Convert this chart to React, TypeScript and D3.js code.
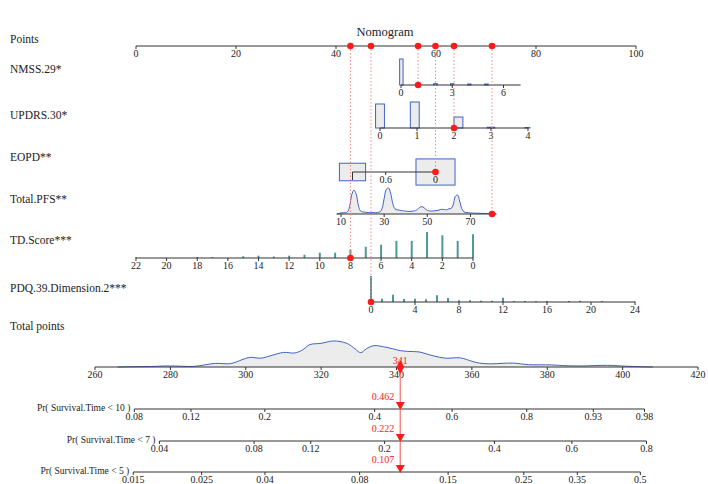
import React from 'react';
import * as d3 from 'd3';

const FONT = '"Liberation Serif", "Times New Roman", serif';
const W = 708;
const H = 484;

// ---- data ----
const pointTicks = [0, 20, 40, 60, 80, 100];
const totalTicks = [260, 280, 300, 320, 340, 360, 380, 400, 420];

// points = intercept + slope * value
const nmssCoef = [53.0, 3.417];
const updrsCoef = [48.8, 7.4];
const eopdCoef = [59.9, -16.6];
const pfsCoef = [36.69, 0.4314];
const tdCoef = [67.4, -3.064];
const pdqCoef = [47.0, 2.2];

// the patient that is marked in red
const obsNmss = 1;
const obsUpdrs = 2;
const obsEopd = 0;
const obsPfs = 80;
const obsTd = 8;
const obsPdq = 0;

const nmssRange = [0, 7];
const nmssTicks = [0, 3, 6];
// [from, to, frequency]
const nmssBins = [
  [-0.08, 0.12, 27], [0.92, 1.12, 1.2], [1.92, 2.12, 1.5],
  [2.9, 3.1, 1.4], [3.9, 4.1, 1], [4.9, 5.1, 1],
];

const updrsRange = [0, 4];
const updrsTicks = [0, 1, 2, 3, 4];
const updrsBins = [
  [-0.12, 0.12, 24], [0.82, 1.06, 26], [2.0, 2.24, 11], [2.9, 3.1, 0.8], [3.92, 4.05, 0.5],
];

const eopdLevels = [1, 0];
const eopdFreq = [0.31, 0.69];
const eopdTicks = [1, 0.6, 0];
const eopdTickLabels = ['', '0.6', '0'];

const pfsRange = [8, 82];
const pfsTicks = [10, 30, 50, 70];
const pfsX = d3.range(8, 83);
const pfsDensity = [
  0.0, 0.02, 0.04, 0.05, 0.05, 0.08,
  0.3, 0.75, 0.92, 0.78, 0.35, 0.12, 0.08,
  0.07, 0.06, 0.05, 0.05, 0.06, 0.05, 0.06, 0.08, 0.2, 0.6,
  0.95, 1.0, 0.8, 0.4, 0.2, 0.16, 0.15, 0.13, 0.12, 0.11,
  0.1, 0.1, 0.11, 0.12, 0.15, 0.22, 0.28, 0.27, 0.2, 0.14,
  0.12, 0.11, 0.12, 0.13, 0.14, 0.17, 0.18, 0.17, 0.16, 0.2,
  0.21, 0.35, 0.68, 0.73, 0.5, 0.2, 0.08, 0.06, 0.05, 0.04,
  0.04, 0.03, 0.03, 0.03, 0.02, 0.02, 0.02, 0.02, 0.02, 0.02, 0.01, 0.0,
];

const tdRange = [0, 22];
const tdTicks = [22, 20, 18, 16, 14, 12, 10, 8, 6, 4, 2, 0];
const tdValues = [22, 18, 17, 15, 14, 13, 12, 11, 10, 9, 8, 7, 6, 5, 4, 3, 2, 1, 0];
const tdFreq = [0.3, 0.3, 0.3, 0.6, 0.8, 0.5, 0.8, 1.1, 1.8, 1.8, 2.8, 3.8, 4.5, 5.8, 5.8, 8.8, 7.7, 5.8, 8.0];

const pdqRange = [0, 24];
const pdqTicks = [0, 4, 8, 12, 16, 20, 24];
const pdqValues = [0, 1, 2, 3, 4, 5, 6, 7, 8, 9, 10, 11, 12, 13, 14, 15, 16, 18, 19, 21, 24];
const pdqFreq = [26.5, 3.3, 7.3, 3, 3.3, 2.7, 7, 4, 1.7, 1.7, 1.3, 1.3, 4.3, 1, 1, 1, 1, 1, 1.3, 1, 0.5];

// density of total points: [total, density]
const totalDensity = [
  [266, 0], [270, 0.01], [275, 0.02], [279, 0.04], [283, 0.03], [286, 0.02], [289, 0.08],
  [292, 0.14], [296, 0.13], [299, 0.28], [301, 0.37], [304, 0.34], [307, 0.45], [310, 0.56],
  [313, 0.54], [315, 0.65], [317, 0.86], [320, 0.91], [323, 1.0], [325, 0.98], [327, 0.9],
  [329, 0.7], [330.5, 0.55], [332, 0.7], [334, 0.82], [336.5, 0.78], [339, 0.7], [341, 0.63],
  [343, 0.6], [346, 0.58], [348, 0.5], [350, 0.42], [353, 0.34], [357, 0.35], [360, 0.22],
  [362, 0.15], [365, 0.12], [368, 0.14], [371, 0.15], [375, 0.09], [381, 0.08], [385, 0.05],
  [389, 0.04], [396, 0.065], [401, 0.03], [405, 0.01], [408, 0],
];

// Cox model: Pr(T < t) = 1 - S0(t)^exp(beta * (total - 300))
const beta = 0.02843;
const prTimes = [10, 7, 5];
const baseSurv300 = [0.8243, 0.9247, 0.9653];
const prTicks = [
  [0.08, 0.12, 0.2, 0.4, 0.6, 0.8, 0.93, 0.98],
  [0.04, 0.08, 0.12, 0.2, 0.4, 0.6, 0.8],
  [0.015, 0.025, 0.04, 0.08, 0.15, 0.25, 0.35, 0.5],
];

// ---- layout ----
const Y = { points: 46, nmss: 85, updrs: 128, eopd: 172, pfs: 214, td: 258, pdq: 302, total: 367 };
const prY = [409, 441, 472];
const DIST_H = 26;

const AXIS = '#333';
const BLUE = '#4063c4';
const FILL = '#ececec';
const TEAL = '#4e9995';
const RED = '#ff1a1a';
const PINK = '#f28a8a';

const xPts = d3.scaleLinear().domain([0, 100]).range([136, 636]);
const xTot = d3.scaleLinear().domain([260, 420]).range([95, 698]);

const lin = (c: number[]) => (v: number) => xPts(c[0] + c[1] * v);
const xNmss = lin(nmssCoef);
const xUpdrs = lin(updrsCoef);
const xEopd = lin(eopdCoef);
const xPfs = lin(pfsCoef);
const xTd = lin(tdCoef);
const xPdq = lin(pdqCoef);

const prX = (i: number, p: number) => xTot(300 + Math.log(Math.log(1 - p) / Math.log(baseSurv300[i])) / beta);
const prAt = (i: number, total: number) => 1 - Math.pow(baseSurv300[i], Math.exp(beta * (total - 300)));

function Axis({ x1, x2, y, ticks }: { x1: number; x2: number; y: number; ticks: { x: number; label: string }[] }) {
  return (
    <g>
      <line x1={x1} x2={x2} y1={y} y2={y} stroke={AXIS} strokeWidth={1} />
      {ticks.map((t, i) => (
        <g key={i}>
          <line x1={t.x} x2={t.x} y1={y} y2={y + 3} stroke={AXIS} strokeWidth={1} />
          <text x={t.x} y={y + 11} textAnchor="middle" fontSize={10} fill="#222">{t.label}</text>
        </g>
      ))}
    </g>
  );
}

function Label({ y, text }: { y: number; text: string }) {
  return <text x={10} y={y} fontSize={11.5} fill="#222">{text}</text>;
}

export default function App() {
  const obsPoints = [
    [nmssCoef[0] + nmssCoef[1] * obsNmss, Y.nmss],
    [updrsCoef[0] + updrsCoef[1] * obsUpdrs, Y.updrs],
    [eopdCoef[0] + eopdCoef[1] * obsEopd, Y.eopd],
    [pfsCoef[0] + pfsCoef[1] * obsPfs, Y.pfs],
    [tdCoef[0] + tdCoef[1] * obsTd, Y.td],
    [pdqCoef[0] + pdqCoef[1] * obsPdq, Y.pdq],
  ];
  const total = d3.sum(obsPoints, (d) => d[0]);
  const xTotal = xTot(total);

  const hist = (bins: number[][], xf: (v: number) => number, base: number) => {
    const hs = d3.scaleLinear().domain([0, d3.max(bins, (b) => b[2]) as number]).range([0, DIST_H]);
    return bins.map((b, i) => {
      const a = xf(b[0]);
      const c = xf(b[1]);
      return (
        <rect key={i} x={Math.min(a, c)} width={Math.abs(c - a)} y={base - hs(b[2])} height={hs(b[2])}
          fill={FILL} stroke={BLUE} strokeWidth={1} />
      );
    });
  };

  const spikes = (vals: number[], freq: number[], xf: (v: number) => number, base: number) => {
    const hs = d3.scaleLinear().domain([0, d3.max(freq) as number]).range([0, DIST_H]);
    return vals.map((v, i) => (
      <line key={i} x1={xf(v)} x2={xf(v)} y1={base} y2={base - hs(freq[i])} stroke={TEAL} strokeWidth={2} />
    ));
  };

  const pfsMax = d3.max(pfsDensity) as number;
  const pfsArea = d3.area<number>()
    .x((d, i) => xPfs(pfsX[i]))
    .y0(Y.pfs)
    .y1((d) => Y.pfs - (d / pfsMax) * DIST_H)
    .curve(d3.curveCatmullRom);
  const pfsLine = d3.line<number>()
    .x((d, i) => xPfs(pfsX[i]))
    .y((d) => Y.pfs - (d / pfsMax) * DIST_H)
    .curve(d3.curveCatmullRom);

  const totMax = d3.max(totalDensity, (d) => d[1]) as number;
  const totArea = d3.area<number[]>()
    .x((d) => xTot(d[0]))
    .y0(Y.total)
    .y1((d) => Y.total - (d[1] / totMax) * DIST_H)
    .curve(d3.curveCatmullRom);
  const totLine = d3.line<number[]>()
    .x((d) => xTot(d[0]))
    .y((d) => Y.total - (d[1] / totMax) * DIST_H)
    .curve(d3.curveCatmullRom);

  const eopdScale = d3.scaleSqrt().domain([0, 1]).range([0, 1]);

  const obsX = [xNmss(obsNmss), xUpdrs(obsUpdrs), xEopd(obsEopd), xPfs(obsPfs), xTd(obsTd), xPdq(obsPdq)];

  return (
    <div style={{ position: 'absolute', left: 0, top: 0 }}>
      <svg width={W} height={H} style={{ display: 'block', fontFamily: FONT }}>
        <rect width={W} height={H} fill="#fff" />
        <text x={385} y={36} textAnchor="middle" fontSize={12.5} fill="#222">Nomogram</text>

        <Label y={43} text="Points" />
        <Label y={73} text="NMSS.29*" />
        <Label y={119} text="UPDRS.30*" />
        <Label y={161} text="EOPD**" />
        <Label y={203} text="Total.PFS**" />
        <Label y={244} text="TD.Score***" />
        <Label y={292} text="PDQ.39.Dimension.2***" />
        <Label y={330} text="Total points" />

        {/* distributions */}
        {hist(nmssBins, xNmss, Y.nmss)}
        {hist(updrsBins, xUpdrs, Y.updrs)}
        {eopdLevels.map((lv, i) => {
          const s = eopdScale(eopdFreq[i]);
          const w = s * 47;
          const h = s * 31.5;
          return (
            <rect key={i} x={xEopd(lv) - w / 2} y={Y.eopd - h / 2} width={w} height={h}
              fill={FILL} stroke={BLUE} strokeWidth={1} />
          );
        })}
        <path d={pfsArea(pfsDensity) || ''} fill={FILL} />
        <path d={pfsLine(pfsDensity) || ''} fill="none" stroke={BLUE} strokeWidth={1} />
        {spikes(tdValues, tdFreq, xTd, Y.td)}
        {spikes(pdqValues, pdqFreq, xPdq, Y.pdq)}
        <path d={totArea(totalDensity) || ''} fill={FILL} />
        <path d={totLine(totalDensity) || ''} fill="none" stroke={BLUE} strokeWidth={1} />

        {/* axes */}
        <Axis x1={xPts(0)} x2={xPts(100)} y={Y.points} ticks={pointTicks.map((t) => ({ x: xPts(t), label: String(t) }))} />
        <Axis x1={xNmss(nmssRange[0])} x2={xNmss(nmssRange[1])} y={Y.nmss}
          ticks={nmssTicks.map((t) => ({ x: xNmss(t), label: String(t) }))} />
        <Axis x1={xUpdrs(updrsRange[0])} x2={xUpdrs(updrsRange[1])} y={Y.updrs}
          ticks={updrsTicks.map((t) => ({ x: xUpdrs(t), label: String(t) }))} />
        <Axis x1={xEopd(1)} x2={xEopd(0)} y={Y.eopd}
          ticks={eopdTicks.map((t, i) => ({ x: xEopd(t), label: eopdTickLabels[i] }))} />
        <line x1={xEopd(1)} x2={xEopd(1)} y1={Y.eopd} y2={Y.eopd + 8} stroke={AXIS} />
        <Axis x1={xPfs(pfsRange[0])} x2={xPfs(pfsRange[1])} y={Y.pfs}
          ticks={pfsTicks.map((t) => ({ x: xPfs(t), label: String(t) }))} />
        <Axis x1={xTd(tdRange[1])} x2={xTd(tdRange[0])} y={Y.td}
          ticks={tdTicks.map((t) => ({ x: xTd(t), label: String(t) }))} />
        <Axis x1={xPdq(pdqRange[0])} x2={xPdq(pdqRange[1])} y={Y.pdq}
          ticks={pdqTicks.map((t) => ({ x: xPdq(t), label: String(t) }))} />
        <Axis x1={xTot(260)} x2={xTot(420)} y={Y.total}
          ticks={totalTicks.map((t) => ({ x: xTot(t), label: String(t) }))} />

        {prTimes.map((t, i) => {
          const ticks = prTicks[i];
          const x0 = prX(i, ticks[0]);
          const x1 = prX(i, ticks[ticks.length - 1]);
          return (
            <g key={t}>
              <text x={x0 - 4} y={prY[i] + 2} textAnchor="end" fontSize={9.5} fill="#222">
                {`Pr( Survival.Time < ${t} )`}
              </text>
              <Axis x1={x0} x2={x1} y={prY[i]} ticks={ticks.map((p) => ({ x: prX(i, p), label: String(p) }))} />
            </g>
          );
        })}

        {/* observation markers */}
        {obsPoints.map((d, i) => (
          <line key={'l' + i} x1={xPts(d[0])} x2={xPts(d[0])} y1={Y.points} y2={d[1]}
            stroke={PINK} strokeWidth={1} strokeDasharray="1.5,2" />
        ))}
        {obsPoints.map((d, i) => (
          <g key={'d' + i}>
            <circle cx={xPts(d[0])} cy={Y.points} r={3.3} fill={RED} />
            <circle cx={obsX[i]} cy={d[1]} r={3.3} fill={RED} />
          </g>
        ))}
        <line x1={xTotal} x2={xTotal} y1={Y.total} y2={prY[2]} stroke={PINK} strokeWidth={1.5} />
        <path d={d3.symbol(d3.symbolDiamond, 55)() || ''} transform={`translate(${xTotal},${Y.total})`} fill={RED} />
        <text x={xTotal} y={Y.total - 3} textAnchor="middle" fontSize={10} fill={RED}>{Math.round(total)}</text>
        {prTimes.map((t, i) => (
          <g key={'p' + t}>
            <path d={`M${xTotal - 4.5},${prY[i] - 7}L${xTotal + 4.5},${prY[i] - 7}L${xTotal},${prY[i] + 1}Z`} fill={RED} />
            <text x={xTotal - 6} y={prY[i] - 9} textAnchor="end" fontSize={10} fill={RED}>
              {prAt(i, total).toFixed(3)}
            </text>
          </g>
        ))}
      </svg>
    </div>
  );
}
